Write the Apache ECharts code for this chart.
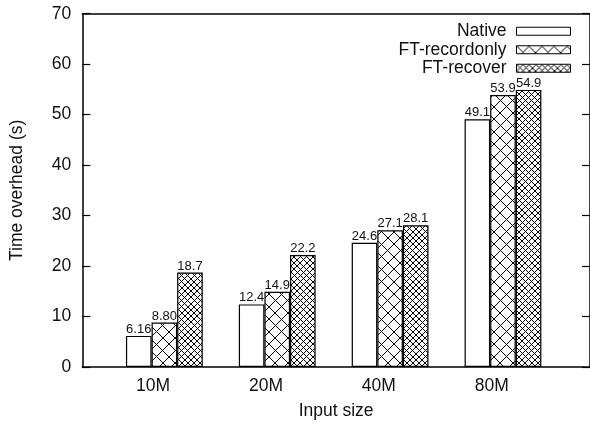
<!DOCTYPE html>
<html>
<head>
<meta charset="utf-8">
<script src="https://cdn.jsdelivr.net/npm/echarts@6/dist/echarts.min.js"></script>
<style>
html,body{margin:0;padding:0;background:#fff;}
#chart{width:590px;height:425px;}
</style>
</head>
<body>
<div id="chart"></div>
<script>
const categories = ['10M', '20M', '40M', '80M'];
const seriesNames = ['Native', 'FT-recordonly', 'FT-recover'];
const nativeValues = [6.16, 12.4, 24.6, 49.1];
const recordonlyValues = [8.80, 14.9, 27.1, 53.9];
const recoverValues = [18.7, 22.2, 28.1, 54.9];
const yTicks = [0, 10, 20, 30, 40, 50, 60, 70];

// crisp pixel crosshatch tile: size = tile size, offsets = line offsets within tile
function hatch(size, offsets) {
  const c = document.createElement('canvas');
  c.width = size; c.height = size;
  const g = c.getContext('2d');
  const img = g.createImageData(size, size);
  for (let y = 0; y < size; y++) {
    for (let x = 0; x < size; x++) {
      const a = ((x - y) % size + size) % size;
      const b = (x + y) % size;
      const on = offsets.indexOf(a) >= 0 || offsets.indexOf(b) >= 0;
      const idx = (y * size + x) * 4;
      const v = on ? 0 : 255;
      img.data[idx] = v; img.data[idx + 1] = v; img.data[idx + 2] = v; img.data[idx + 3] = 255;
    }
  }
  g.putImageData(img, 0, 0);
  return { image: c, repeat: 'repeat' };
}

const fills = ['#ffffff', hatch(25, [0, 12]), hatch(25, [0, 6, 12, 19])];
const valueSets = [nativeValues, recordonlyValues, recoverValues];
const font = 'Liberation Sans, Arial, Helvetica, sans-serif';

const chart = echarts.init(document.getElementById('chart'), null, { renderer: 'canvas' });

const series = seriesNames.map((name, i) => ({
  name: name,
  type: 'bar',
  xAxisIndex: 0,
  yAxisIndex: 0,
  barWidth: 25.6,
  barGap: '0%',
  data: valueSets[i].map((v, j) => [j, v]),
  itemStyle: { color: fills[i], borderColor: '#000', borderWidth: 1.2 },
  label: {
    show: true,
    position: 'top',
    distance: 0,
    fontFamily: font,
    fontSize: 13,
    color: '#111',
    formatter: p => Number(p.value[1]).toPrecision(3)
  },
  emphasis: { disabled: true },
  animation: false
}));

chart.setOption({
  backgroundColor: '#fff',
  animation: false,
  textStyle: { fontFamily: font },
  grid: { left: 82.3, right: -2, top: 13.7, bottom: 57.1, show: false },
  legend: {
    orient: 'vertical',
    right: 19,
    top: 22,
    padding: 0,
    align: 'right',
    itemWidth: 54,
    itemHeight: 8,
    itemGap: 0,
    selectedMode: false,
    textStyle: { fontFamily: font, fontSize: 17.5, color: '#111', lineHeight: 18.5, padding: [0, 5, 0, 0] },
    data: seriesNames.map((n, i) => ({
      name: n,
      icon: 'rect',
      itemStyle: { color: fills[i], borderColor: '#000', borderWidth: 1 }
    }))
  },
  xAxis: [{
    type: 'value',
    min: -0.727,
    max: 3.771,
    position: 'bottom',
    name: 'Input size',
    nameLocation: 'middle',
    nameGap: 35,
    nameTextStyle: { fontFamily: font, fontSize: 17.5, color: '#111' },
    axisLine: { show: true, onZero: false, lineStyle: { color: '#000', width: 1.5 } },
    axisTick: { show: false },
    splitLine: { show: false },
    axisLabel: {
      customValues: categories.map((c, i) => i - 0.1),
      formatter: v => categories[Math.round(v + 0.1)],
      fontFamily: font, fontSize: 17.5, color: '#111', margin: 10.5
    }
  }, {
    type: 'value',
    min: -0.727,
    max: 3.771,
    position: 'top',
    axisLine: { show: true, onZero: false, lineStyle: { color: '#000', width: 1.5 } },
    axisTick: { show: false },
    axisLabel: { show: false },
    splitLine: { show: false }
  }],
  yAxis: [{
    type: 'value',
    min: yTicks[0],
    max: yTicks[yTicks.length - 1],
    interval: 10,
    position: 'left',
    name: 'Time overhead (s)',
    nameLocation: 'middle',
    nameGap: 56,
    nameTextStyle: { fontFamily: font, fontSize: 17.5, color: '#111' },
    axisLine: { show: true, onZero: false, lineStyle: { color: '#000', width: 1.5 } },
    axisTick: { show: true, inside: true, length: 8, lineStyle: { color: '#000', width: 1.2 } },
    axisLabel: { fontFamily: font, fontSize: 17.5, color: '#111', margin: 11 },
    splitLine: { show: false }
  }, {
    type: 'value',
    min: yTicks[0],
    max: yTicks[yTicks.length - 1],
    interval: 10,
    position: 'right',
    axisLine: { show: true, onZero: false, lineStyle: { color: '#000', width: 1.5 } },
    axisTick: { show: true, inside: true, length: 8, lineStyle: { color: '#000', width: 1.2 } },
    axisLabel: { show: false },
    splitLine: { show: false }
  }],
  series: series
});
</script>
</body>
</html>
